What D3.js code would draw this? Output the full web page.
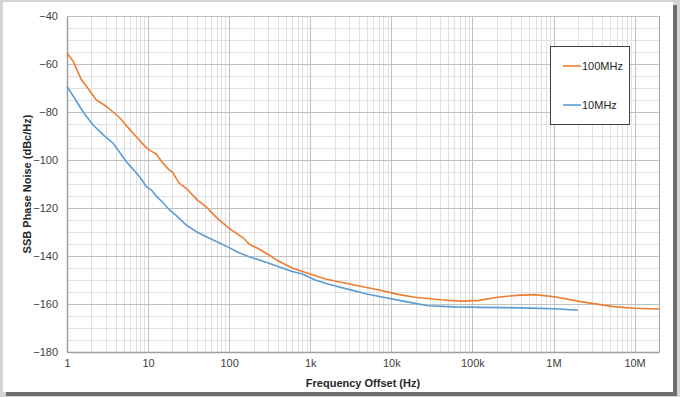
<!DOCTYPE html>
<html>
<head>
<meta charset="utf-8">
<script src="https://cdn.jsdelivr.net/npm/d3@7"></script>
<style>
  body { margin: 0; background: #fff; }
  text { font-family: "Liberation Sans", Arial, sans-serif; }
</style>
</head>
<body>
<div id="chart"></div>
<script>
// 100MHz carrier
const freq100 = [1, 1.2, 1.5, 1.8, 2.3, 3, 3.7, 4.5, 5.5, 7.4, 9, 10, 12.6, 15, 18, 20, 24, 30, 40, 52, 70, 100, 150, 176, 230, 310, 400, 600, 800, 1000, 1500, 2240, 4000, 7600, 12000, 19500, 40000, 73000, 120000, 205000, 350000, 580000, 1020000, 2150000, 5500000, 10000000, 20000000];
const pn100 = [-55.4, -59, -66.5, -70, -75, -77.5, -80, -82.5, -86, -90.8, -94, -95.5, -97.5, -101, -104, -105, -109.5, -112, -116.5, -119.5, -124, -128.5, -132.5, -135, -137, -139.6, -142, -145, -146.5, -147.5, -149.5, -150.7, -152.5, -154.4, -156, -157.2, -158.2, -158.8, -158.5, -157.2, -156.4, -156.1, -157, -159, -161.1, -161.8, -162.1];

// 10MHz carrier
const freq10 = [1, 1.2, 1.44, 1.7, 2.1, 2.8, 3.7, 4.5, 5.4, 7, 8.5, 9.5, 11, 13, 15, 18.4, 22, 29.4, 40, 57, 75, 100, 130, 176, 240, 310, 450, 600, 800, 1150, 1700, 2960, 5000, 9200, 15000, 28500, 60000, 128000, 250000, 525000, 1000000, 1870000, 2000000];
const pn10 = [-69.4, -73.5, -77.8, -81.5, -85.4, -89.5, -93, -97, -100.7, -105, -108.5, -111.1, -112.5, -115.5, -117.5, -120.8, -123, -127, -130, -132.6, -134.5, -136.5, -138.5, -140.3, -141.8, -143, -145, -146.5, -147.5, -150, -151.8, -153.9, -155.8, -157.6, -159, -160.7, -161.2, -161.4, -161.5, -161.7, -162, -162.5, -162.5];

const xTicks = [1, 10, 100, 1e3, 1e4, 1e5, 1e6, 1e7];
const xTickLabels = ["1", "10", "100", "1k", "10k", "100k", "1M", "10M"];
const yTicks = [-40, -60, -80, -100, -120, -140, -160, -180];

const W = 680, H = 397;
const svg = d3.select("#chart").append("svg").attr("width", W).attr("height", H);

// frame + shadow
svg.append("rect").attr("width", W).attr("height", H).attr("fill", "#d4d4d4");
svg.append("rect").attr("x", 6).attr("y", 5).attr("width", 671).attr("height", 391).attr("fill", "#6e6e6e");
svg.append("rect").attr("x", 3).attr("y", 2).attr("width", 670).attr("height", 390).attr("fill", "#fff");

const pLeft = 67, pRight = 659, pTop = 16, pBottom = 352;
const x = d3.scaleLog().domain([1, 2e7]).range([pLeft, pRight]);
const y = d3.scaleLinear().domain([-180, -40]).range([pBottom, pTop]);

// grid
const g = svg.append("g");
const minorX = [];
for (let e = 0; e <= 7; e++) for (let m = 2; m <= 9; m++) {
  const v = m * Math.pow(10, e);
  if (v <= 2e7) minorX.push(v);
}
g.selectAll(".mx").data(minorX).enter().append("line")
  .attr("x1", d => Math.round(x(d)) + 0.5).attr("x2", d => Math.round(x(d)) + 0.5)
  .attr("y1", pTop).attr("y2", pBottom)
  .style("stroke", "#e0e0e0");
const minorY = d3.range(-175, -40, 5).filter(v => v % 20 !== 0);
g.selectAll(".my").data(minorY).enter().append("line")
  .attr("x1", pLeft).attr("x2", pRight)
  .attr("y1", d => Math.round(y(d)) + 0.5).attr("y2", d => Math.round(y(d)) + 0.5)
  .style("stroke", "#e0e0e0");
g.selectAll(".Mx").data(xTicks).enter().append("line")
  .attr("x1", d => Math.round(x(d)) + 0.5).attr("x2", d => Math.round(x(d)) + 0.5)
  .attr("y1", pTop).attr("y2", pBottom)
  .style("stroke", "#c0c0c0");
g.selectAll(".My").data(yTicks).enter().append("line")
  .attr("x1", pLeft).attr("x2", pRight)
  .attr("y1", d => Math.round(y(d)) + 0.5).attr("y2", d => Math.round(y(d)) + 0.5)
  .style("stroke", "#c0c0c0");
g.append("line").attr("x1", pRight + 0.5).attr("x2", pRight + 0.5).attr("y1", pTop).attr("y2", pBottom).style("stroke", "#a6a6a6");

// axes
const xAxis = svg.append("g").attr("transform", `translate(0,${pBottom})`)
  .call(d3.axisBottom(x).tickValues(xTicks).tickFormat((d, i) => xTickLabels[i]).tickSize(0).tickPadding(7));
const yAxis = svg.append("g").attr("transform", `translate(${pLeft},0)`)
  .call(d3.axisLeft(y).tickValues(yTicks).tickSize(0).tickPadding(9));
[xAxis, yAxis].forEach(a => {
  a.select(".domain").style("stroke", "#a0a0a0").style("stroke-width", 1.5);
  a.selectAll("text").style("font-size", "11px").style("fill", "#404040");
});

// series
const line = d3.line().x(d => x(d[0])).y(d => y(d[1]));
svg.append("path").datum(d3.zip(freq10, pn10))
  .attr("d", line).attr("fill", "none").style("stroke", "#5b9bd5").style("stroke-width", 1.6);
svg.append("path").datum(d3.zip(freq100, pn100))
  .attr("d", line).attr("fill", "none").style("stroke", "#ed7d31").style("stroke-width", 1.6);

// axis titles
svg.append("text").attr("x", (pLeft + pRight) / 2).attr("y", 387)
  .attr("text-anchor", "middle").style("font-size", "11px").style("font-weight", "bold")
  .style("fill", "#262626").text("Frequency Offset (Hz)");
svg.append("text").attr("transform", `translate(31,${(pTop + pBottom) / 2}) rotate(-90)`)
  .attr("text-anchor", "middle").style("font-size", "11px").style("font-weight", "bold")
  .style("fill", "#262626").text("SSB Phase Noise (dBc/Hz)");

// legend
const leg = svg.append("g");
leg.append("rect").attr("x", 550.5).attr("y", 46.5).attr("width", 79).attr("height", 78)
  .attr("fill", "#fff").style("stroke", "#404040");
const legendItems = [["100MHz", "#ed7d31", 66], ["10MHz", "#5b9bd5", 105]];
legendItems.forEach(([name, c, ly]) => {
  leg.append("line").attr("x1", 563).attr("x2", 581).attr("y1", ly).attr("y2", ly)
    .style("stroke", c).style("stroke-width", 1.6);
  leg.append("text").attr("x", 582).attr("y", ly + 4).style("font-size", "11px")
    .style("fill", "#262626").text(name);
});
</script>
</body>
</html>
